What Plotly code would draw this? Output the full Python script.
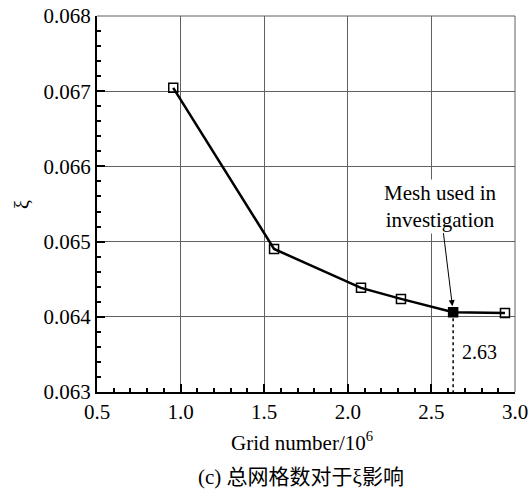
import plotly.graph_objects as go

grid_number = [0.956, 1.559, 2.079, 2.318, 2.63, 2.94]
xi = [0.067045, 0.064902, 0.064385, 0.064238, 0.064062, 0.064050]
used_x = [2.63]
used_y = [0.064062]
x_ticks = [0.5, 1.0, 1.5, 2.0, 2.5, 3.0]
y_ticks = [0.063, 0.064, 0.065, 0.066, 0.067, 0.068]

FONT = "Liberation Serif"
CJK = "Liberation Serif, Noto Sans CJK SC"

fig = go.Figure()
fig.add_trace(go.Scatter(
    x=[used_x[0], used_x[0]], y=[used_y[0], y_ticks[0]], mode="lines",
    line=dict(color="black", width=1.5, dash="dot"), showlegend=False, hoverinfo="skip"))
fig.add_trace(go.Scatter(
    x=grid_number, y=xi, mode="lines+markers",
    line=dict(color="black", width=2.5),
    marker=dict(symbol="square-open", size=9, color="black", line=dict(width=1.5)),
    showlegend=False))
fig.add_trace(go.Scatter(
    x=used_x, y=used_y, mode="markers",
    marker=dict(symbol="square", size=9, color="black"), showlegend=False))

axis_common = dict(
    showline=True, linecolor="black", linewidth=2,
    showgrid=True, gridcolor="#606060", gridwidth=1,
    ticks="inside", ticklen=8, tickwidth=1.5, tickcolor="black",
    tickfont=dict(family=FONT, size=21, color="black"),
    zeroline=False, automargin=False, ticklabeloverflow="allow",
)
fig.update_xaxes(**axis_common, range=[0.5, 3.0], tickvals=x_ticks,
                 ticktext=[f"{v:.1f}" for v in x_ticks],
                 minor=dict(ticks="inside", ticklen=4, dtick=0.1, tickcolor="black", showgrid=False))
fig.update_yaxes(**axis_common, range=[0.063, 0.068], tickvals=y_ticks,
                 ticktext=[f"{v:.3f}" for v in y_ticks],
                 minor=dict(ticks="inside", ticklen=4, dtick=0.0002, tickcolor="black", showgrid=False))

# thin top/right frame
fig.add_shape(type="line", xref="paper", yref="paper", x0=0, x1=1, y0=1, y1=1, line=dict(color="#606060", width=1))
fig.add_shape(type="line", xref="paper", yref="paper", x0=1, x1=1, y0=0, y1=1, line=dict(color="#606060", width=1))

fig.add_annotation(x=used_x[0], y=used_y[0], text="Mesh used in<br>investigation",
                   showarrow=True, arrowhead=2, arrowsize=1.2, arrowwidth=1, arrowcolor="black",
                   ax=-13, ay=-106, standoff=6, bgcolor="white",
                   font=dict(family=FONT, size=21, color="black"))
fig.add_annotation(x=2.785, y=0.06353, text="2.63", showarrow=False,
                   font=dict(family=FONT, size=20, color="black"))

# axis titles and caption (plot area is 418 x 376 px, left at 97, bottom at 392)
fig.add_annotation(xref="paper", yref="paper", x=(302 - 97) / 418, y=-(442 - 392) / 376,
                   yanchor="middle", xanchor="center", showarrow=False,
                   text="Grid number/10<sup>6</sup>", font=dict(family=FONT, size=21, color="black"))
fig.add_annotation(xref="paper", yref="paper", x=-(97 - 22) / 418, y=(392 - 205) / 376,
                   yanchor="middle", xanchor="center", showarrow=False, textangle=-90,
                   text="ξ", font=dict(family=FONT, size=20, color="black"))
fig.add_annotation(xref="paper", yref="paper", x=(301 - 97) / 418, y=-(477 - 392) / 376,
                   yanchor="middle", xanchor="center", showarrow=False,
                   text="(c) 总网格数对于ξ影响", font=dict(family=CJK, size=21, color="black"))

fig.update_layout(width=530, height=495, margin=dict(l=97, r=15, t=16, b=103),
                  plot_bgcolor="white", paper_bgcolor="white")
fig.write_html("out.html", config={"displayModeBar": False},
               post_script="document.body.style.margin='0';")
